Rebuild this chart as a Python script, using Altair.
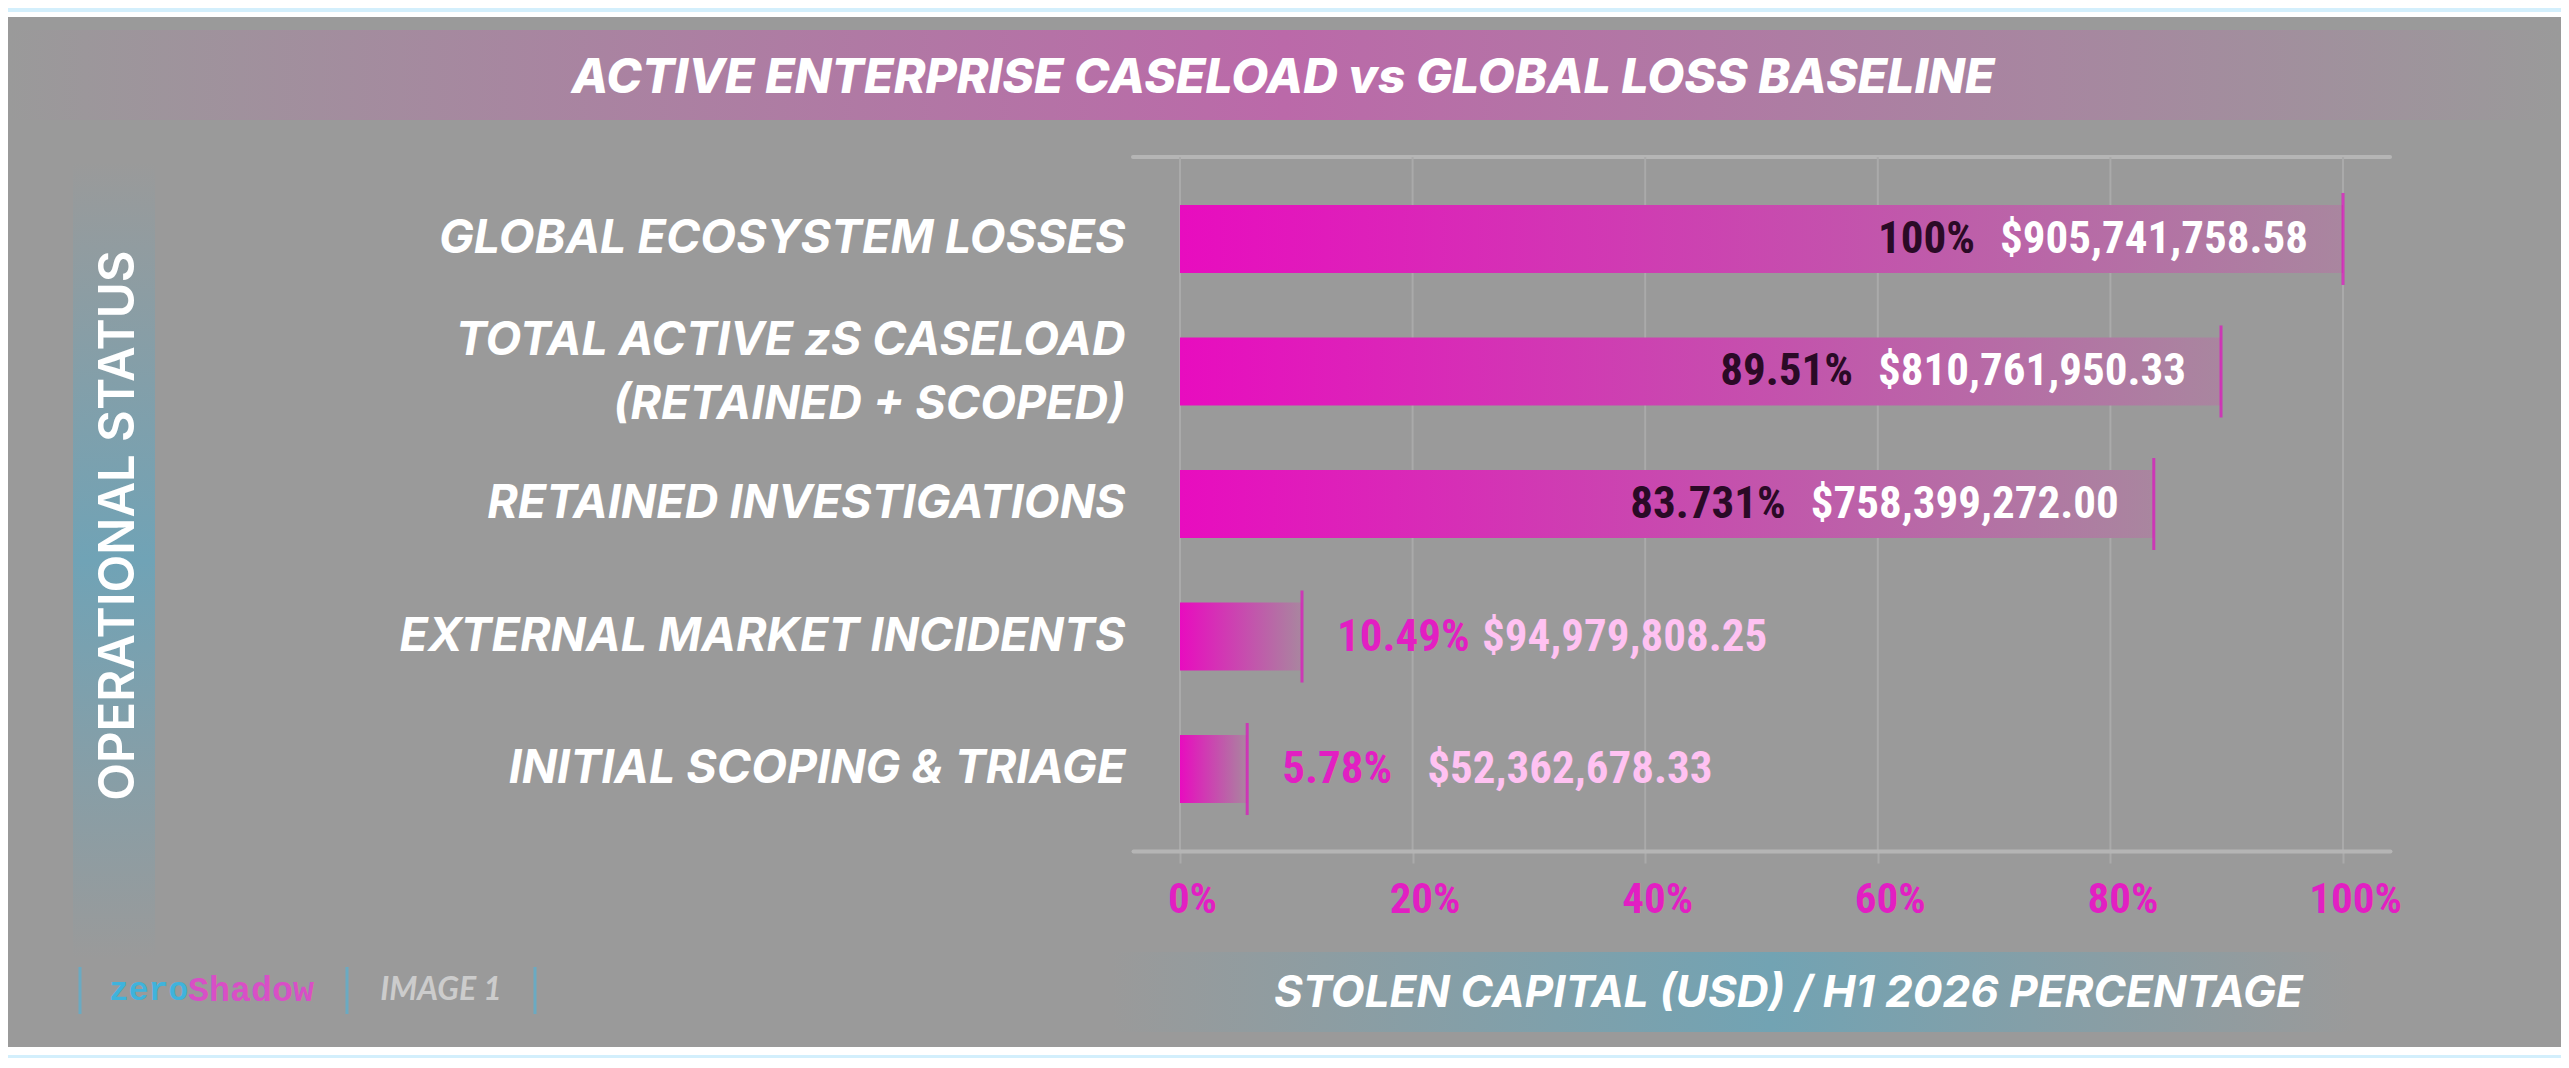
import altair as alt
import pandas as pd

# data
stages = [
    "GLOBAL ECOSYSTEM LOSSES",
    "TOTAL ACTIVE zS CASELOAD|(RETAINED + SCOPED)",
    "RETAINED INVESTIGATIONS",
    "EXTERNAL MARKET INCIDENTS",
    "INITIAL SCOPING & TRIAGE",
]
shares = [1.0, 0.8951, 0.83731, 0.1049, 0.0578]
pct_labels = ["100%", "89.51%", "83.731%", "10.49%", "5.78%"]
usd_values = [905741758.58, 810761950.33, 758399272.00, 94979808.25, 52362678.33]
usd_labels = ["$905,741,758.58", "$810,761,950.33", "$758,399,272.00", "$94,979,808.25", "$52,362,678.33"]
tick_values = [0, 0.2, 0.4, 0.6, 0.8, 1.0]

df = pd.DataFrame({"stage": stages, "share": shares, "pct": pct_labels,
                   "usd": usd_values, "usd_label": usd_labels})
grid_df = pd.DataFrame({"share": tick_values})

W, H = 1257, 694
SANS = "Inter, Open Sans, sans-serif"
NARROW = ("Roboto Condensed, Noto Sans ExtraCondensed, Noto Sans Condensed, "
          "Liberation Sans Narrow, DejaVu Sans Condensed, sans-serif")
MAGENTA = "#e21fc2"
GRAY = "#9a9a9a"

one = alt.Data(values=[{"k": 1}])


def grad(stops, vertical=False):
    return alt.Gradient(
        gradient="linear",
        stops=[alt.GradientStop(color=c, offset=o) for c, o in stops],
        x1=0, x2=0 if vertical else 1, y1=0, y2=1 if vertical else 0)


def band(x, x2, y, y2, fill):
    return alt.Chart(one).mark_rect(color=fill).encode(
        x=alt.value(x), x2=alt.value(x2), y=alt.value(y), y2=alt.value(y2))


def label(txt, x, y, **kw):
    return alt.Chart(one).mark_text(text=txt, baseline="middle", **kw).encode(
        x=alt.value(x), y=alt.value(y))


def divider(x):
    return alt.Chart(one).mark_rule(color="#6aaac2", strokeWidth=3).encode(
        x=alt.value(x), y=alt.value(810), y2=alt.value(857))


decor = [
    band(-1125, 1428, -149, -145, "#d3effc"),
    band(-1125, 1428, -145, -140, "#ffffff"),
    band(-1125, 1428, 890, 898, "#ffffff"),
    band(-1125, 1428, 898, 905, "#d3effc"),
    band(-1125, 1428, -127, -37,
         grad([(GRAY, 0), ("#bb69a9", 0.5), (GRAY, 1)])),
    band(-1060, -978, 5, 802,
         grad([(GRAY, 0), ("#70a3b6", 0.5), (GRAY, 1)], vertical=True)),
    band(-22, 1222, 795, 875,
         grad([(GRAY, 0), ("#72a3b3", 0.53), (GRAY, 1)])),
    alt.Chart(one).mark_rule(color="#b5b5b5", strokeWidth=4, strokeCap="round").encode(
        x=alt.value(0), x2=alt.value(W), y=alt.value(0)),
    label("ACTIVE ENTERPRISE CASELOAD vs GLOBAL LOSS BASELINE", 150, -78,
          align="center", font=SANS, fontSize=48, fontWeight=800,
          fontStyle="italic", color="white"),
    divider(-1053), divider(-786), divider(-598),
    label("zero", -1024, 833, align="left", font="Liberation Mono, monospace",
          fontSize=33, fontWeight="bold", color="#3fb3dc"),
    label("Shadow", -945, 833, align="left", font="Liberation Mono, monospace",
          fontSize=35, fontWeight="bold", color="#d84fc6"),
    label("IMAGE 1", -692, 833, align="center", font="Lato, sans-serif",
          fontSize=32, fontWeight="bold", fontStyle="italic", color="#cccccc"),
]

x_enc = alt.X("share:Q", title="STOLEN CAPITAL (USD) / H1 2026 PERCENTAGE",
              scale=alt.Scale(domain=[-0.0404, 1.0404], nice=False, zero=False),
              axis=alt.Axis(values=tick_values, format=".0%", labelFont=NARROW,
                            labelFontSize=43, labelFontWeight="bold",
                            labelColor=MAGENTA, labelBaseline="middle",
                            labelPadding=36, labelOffset=12, tickSize=12,
                            tickColor="#aaaaaa", tickWidth=2, grid=False,
                            domainColor="#b5b5b5", domainWidth=4,
                            domainCap="round", titleFont=SANS, titleFontSize=44,
                            titleFontWeight="bold", titleFontStyle="italic",
                            titleColor="white", titleAlign="center",
                            titleBaseline="middle", titleX=655, titleY=142,
                            zindex=1))

# the two-line label is shifted up so its block sits centred on the bar
two_line_shift = {"condition": {"test": "indexof(datum.value, '|') >= 0", "value": -30},
                  "value": 0}

y_enc = alt.Y("stage:N", sort=stages, title="OPERATIONAL STATUS",
              scale=alt.Scale(paddingInner=0.487, paddingOuter=0.362),
              axis=alt.Axis(labelExpr="split(datum.label, '|')", labelFont=SANS,
                            labelFontSize=46.5, labelFontWeight=700,
                            labelFontStyle="italic", labelColor="white",
                            labelAlign="right", labelBaseline="middle",
                            labelOffset=two_line_shift,
                            labelPadding=8, labelLineHeight=64, labelLimit=1100,
                            ticks=False, tickSize=0, domain=False, grid=False,
                            titleFont=SANS, titleFontSize=49, titleFontWeight=600,
                            titleColor="white", titleAngle=-90, titleAlign="center",
                            titleBaseline="middle", titleX=-1015, titleY=368,
                            zindex=1))

# vertical gridlines, kept under the bars
grid = alt.Chart(grid_df).mark_rule(color="#aaaaaa", strokeWidth=2).encode(
    x=x_enc, y=alt.value(0), y2=alt.value(H))

base = alt.Chart(df).encode(y=y_enc, x=x_enc)

bar_fill = grad([("#e80cbf", 0), ("#a9869f", 1)])
bars = base.mark_bar(color=bar_fill).encode(x2=alt.datum(0))
ends = base.mark_tick(color="#e010c0", thickness=3, size=92)

txt = dict(font=NARROW, fontSize=45, fontWeight="bold", baseline="middle")
inside = base.transform_filter("datum.share > 0.5")
outside = base.transform_filter("datum.share <= 0.5")
usd_in = inside.mark_text(align="right", dx=-35, color="white", **txt).encode(text="usd_label:N")
pct_in = inside.mark_text(align="right", dx=-368, color="#2a0a26", **txt).encode(text="pct:N")
pct_out = outside.mark_text(align="left", dx=35, color=MAGENTA, **txt).encode(text="pct:N")
usd_out = outside.mark_text(align="left", dx=180, color="#ffc2f2", **txt).encode(text="usd_label:N")

chart = alt.layer(*decor, grid, bars, ends, usd_in, pct_in, pct_out, usd_out).properties(
    width=W, height=H,
    padding={"left": 1125, "top": 149, "right": 171, "bottom": 207},
    autosize=alt.AutoSizeParams(type="none"),
    background=GRAY,
).configure_view(stroke="transparent")

chart.save("out.html", embed_options={"renderer": "svg", "actions": False})
